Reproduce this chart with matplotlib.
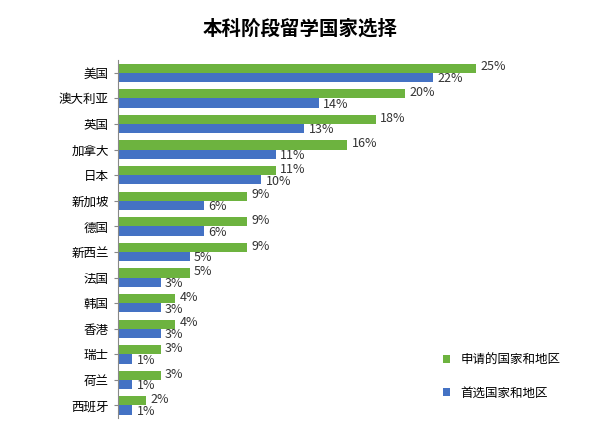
import matplotlib
matplotlib.use("Agg")
import matplotlib.pyplot as plt
from matplotlib import font_manager
import numpy as np

# pick whichever CJK family is actually registered
_names = {f.name for f in font_manager.fontManager.ttflist}
_cjk = [n for n in ["Noto Sans CJK SC", "Noto Sans CJK JP", "Noto Sans CJK TC",
                    "Noto Sans CJK KR", "Noto Sans SC"] if n in _names]
if not _cjk:
    for path in font_manager.findSystemFonts():
        if "CJK" in path or "cjk" in path.lower():
            font_manager.fontManager.addfont(path)
    _cjk = sorted({f.name for f in font_manager.fontManager.ttflist if "CJK" in f.name})
plt.rcParams["font.family"] = "sans-serif"
plt.rcParams["font.sans-serif"] = _cjk + ["DejaVu Sans"]

countries = ["美国", "澳大利亚", "英国", "加拿大", "日本", "新加坡", "德国",
             "新西兰", "法国", "韩国", "香港", "瑞士", "荷兰", "西班牙"]
applied = [25, 20, 18, 16, 11, 9, 9, 9, 5, 4, 4, 3, 3, 2]
preferred = [22, 14, 13, 11, 10, 6, 6, 5, 3, 3, 3, 1, 1, 1]

GREEN = "#6db33f"
BLUE = "#4472c4"

fig = plt.figure(figsize=(6.01, 4.29), dpi=100)
ax = fig.add_axes([0.196, 0.025, 0.74, 0.835])

y = np.arange(len(countries))
h = 0.36
ax.barh(y - h / 2, applied, height=h, color=GREEN, label="申请的国家和地区")
ax.barh(y + h / 2, preferred, height=h, color=BLUE, label="首选国家和地区")

for yi, v in zip(y, applied):
    ax.text(v + 0.3, yi - h / 2 - 0.05, f"{v}%", va="center", ha="left", fontsize=9, color="#333333")
for yi, v in zip(y, preferred):
    ax.text(v + 0.3, yi + h / 2 + 0.05, f"{v}%", va="center", ha="left", fontsize=9, color="#333333")

ax.set_yticks(y)
ax.set_yticklabels(countries, fontsize=9)
ax.set_ylim(len(countries) - 0.5, -0.5)
ax.set_xlim(0, 31)
ax.set_xticks([])
for s in ["top", "right", "bottom"]:
    ax.spines[s].set_visible(False)
ax.spines["left"].set_color("#888888")
ax.tick_params(axis="y", length=3, color="#888888")

ax.legend(loc="lower right", frameon=False, fontsize=9, handlelength=0.6,
          handleheight=0.6, labelspacing=1.6, bbox_to_anchor=(1.02, 0.02))

fig.suptitle("本科阶段留学国家选择", y=0.955, fontsize=14, fontweight="bold")

fig.savefig("out.png", dpi=100, facecolor="white")
